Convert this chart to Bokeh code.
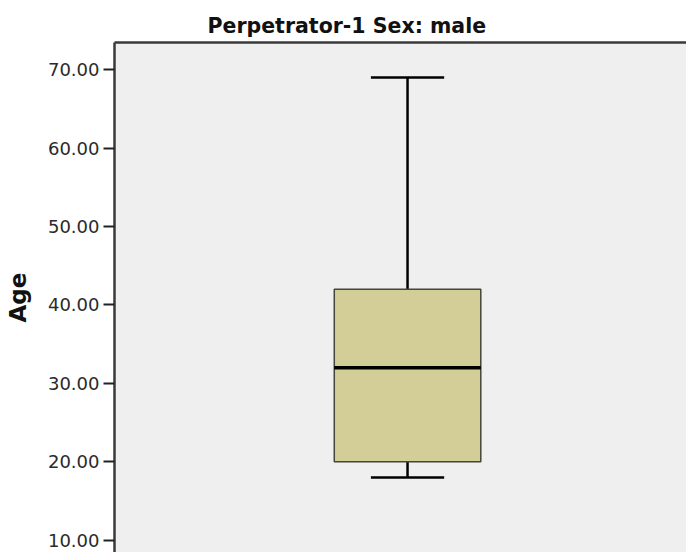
from bokeh.plotting import figure
from bokeh.models import Range1d, LinearAxis, FixedTicker, NumeralTickFormatter, ColumnDataSource
from bokeh.embed import file_html
from bokeh.resources import INLINE

# Data
groups = ["male"]
group_pos = [1.0]
whisker_low = [18.0]
q1 = [20.0]
median = [32.0]
q3 = [42.0]
whisker_high = [69.0]
y_ticks = [10, 20, 30, 40, 50, 60, 70]

BOX_W = 0.5
CAP_W = 0.25

src = ColumnDataSource(dict(
    x=group_pos, lo=whisker_low, q1=q1, med=median, q3=q3, hi=whisker_high,
    cap_l=[x - CAP_W / 2 for x in group_pos], cap_r=[x + CAP_W / 2 for x in group_pos],
    box_l=[x - BOX_W / 2 for x in group_pos], box_r=[x + BOX_W / 2 for x in group_pos],
))

p = figure(width=686, height=552, output_backend="svg", toolbar_location=None,
           x_range=Range1d(0, 1.952), y_range=Range1d(8.43, 73.48),
           min_border_left=114, min_border_top=42, min_border_right=0, min_border_bottom=0,
           x_axis_location=None, y_axis_location=None)

p.background_fill_color = "#EFEFEF"
p.border_fill_color = "white"
p.outline_line_color = None
p.grid.visible = False

# title
p.title.text = "Perpetrator-1 Sex: male"
p.title.text_font = "DejaVu Sans"
p.title.text_font_size = "20.5px"
p.title.text_font_style = "bold"
p.title.text_color = "#111111"
p.title.align = "left"
p.title.offset = 93

# left axis
yax = LinearAxis(ticker=FixedTicker(ticks=y_ticks), formatter=NumeralTickFormatter(format="0.00"))
yax.axis_label = "Age"
yax.axis_label_text_font = "DejaVu Sans"
yax.axis_label_text_font_size = "23px"
yax.axis_label_text_font_style = "bold"
yax.axis_label_text_color = "#111111"
yax.axis_label_standoff = 14
yax.major_label_text_font = "DejaVu Sans"
yax.major_label_text_font_size = "18px"
yax.major_label_text_color = "#2a2a2a"
yax.major_label_standoff = 4
yax.axis_line_color = "#3a3a3a"
yax.axis_line_width = 2.5
yax.major_tick_line_color = "#222222"
yax.major_tick_line_width = 2
yax.major_tick_out = 11
yax.major_tick_in = 0
yax.minor_tick_line_color = None
p.add_layout(yax, "left")

# top border line
top = LinearAxis(ticker=FixedTicker(ticks=[]), major_label_text_font_size="0px")
top.axis_line_color = "#3a3a3a"
top.axis_line_width = 2.5
top.major_tick_line_color = None
top.minor_tick_line_color = None
p.add_layout(top, "above")

# whiskers
p.segment(x0="x", y0="q3", x1="x", y1="hi", source=src, line_color="black", line_width=2.5)
p.segment(x0="x", y0="lo", x1="x", y1="q1", source=src, line_color="black", line_width=2.5)
p.segment(x0="cap_l", y0="hi", x1="cap_r", y1="hi", source=src, line_color="black", line_width=2.5)
p.segment(x0="cap_l", y0="lo", x1="cap_r", y1="lo", source=src, line_color="black", line_width=2.5)
# box
p.quad(left="box_l", right="box_r", bottom="q1", top="q3", source=src,
       fill_color="#D3CE98", line_color="#45453a", line_width=1.5)
# median
p.segment(x0="box_l", y0="med", x1="box_r", y1="med", source=src, line_color="black", line_width=3.5)

open("out.html", "w").write(file_html(p, INLINE))
